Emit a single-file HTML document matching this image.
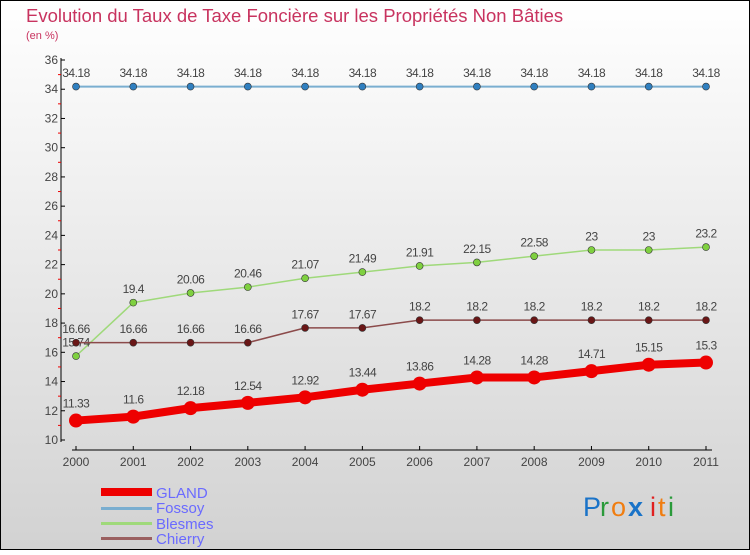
<!DOCTYPE html>
<html><head><meta charset="utf-8"><style>
html,body{margin:0;padding:0}
body{width:750px;height:550px;overflow:hidden;font-family:"Liberation Sans",sans-serif}
svg text{font-family:"Liberation Sans",sans-serif}
</style></head><body>
<svg id="chart" width="750" height="550" xmlns="http://www.w3.org/2000/svg">
<defs><linearGradient id="bg" x1="0" y1="0" x2="0" y2="1"><stop offset="0" stop-color="#ffffff"/><stop offset="1" stop-color="#d2d2d2"/></linearGradient></defs>
<rect x="0.5" y="0.5" width="749" height="549" fill="url(#bg)" stroke="#000"/>
<text x="26" y="22" font-size="18.5" fill="#c8335f">Evolution du Taux de Taxe Foncière sur les Propriétés Non Bâties</text>
<text x="26" y="39" font-size="11" fill="#c8335f">(en %)</text>
<g id="axes"></g>
<g id="series"></g>
<g id="legend">
<rect x="101" y="488" width="51" height="8" fill="#e00"/>
<text x="156" y="498" font-size="15" fill="#6a6aff">GLAND</text>
<rect x="101" y="507" width="51" height="3" fill="#7aaed0"/>
<text x="156" y="513" font-size="15" fill="#6a6aff">Fossoy</text>
<rect x="101" y="522" width="51" height="3" fill="#9fd97a"/>
<text x="156" y="529" font-size="15" fill="#6a6aff">Blesmes</text>
<rect x="101" y="537" width="51" height="3" fill="#9a6060"/>
<text x="156" y="544" font-size="15" fill="#6a6aff">Chierry</text>
</g>
<g font-size="27" font-family="Liberation Sans">
<text x="583" y="516" fill="#1a73c8">P</text><text x="600" y="516" fill="#2a9a3a">r</text><text x="611" y="516" fill="#f07d10">o</text><text x="628" y="516" fill="#1a73c8" font-weight="bold">x</text><text x="650" y="516" fill="#e02020">i</text><text x="658" y="516" fill="#f07d10">t</text><text x="668" y="516" fill="#2a9a3a">i</text>
</g>
</svg>
<script>
const years = ["2000","2001","2002","2003","2004","2005","2006","2007","2008","2009","2010","2011"];
const gland = [11.33,11.6,12.18,12.54,12.92,13.44,13.86,14.28,14.28,14.71,15.15,15.3];
const fossoy = [34.18,34.18,34.18,34.18,34.18,34.18,34.18,34.18,34.18,34.18,34.18,34.18];
const blesmes = [15.74,19.4,20.06,20.46,21.07,21.49,21.91,22.15,22.58,23,23,23.2];
const chierry = [16.66,16.66,16.66,16.66,17.67,17.67,18.2,18.2,18.2,18.2,18.2,18.2];
const yTicks = [10,12,14,16,18,20,22,24,26,28,30,32,34,36];
const NS="http://www.w3.org/2000/svg";
const x = i => 76 + i*(706-76)/(years.length-1);
const y = v => 440 - (v-10)*(440-60)/26;
function mk(tag, attrs, parent){const e=document.createElementNS(NS,tag);for(const k in attrs)e.setAttribute(k,attrs[k]);parent.appendChild(e);return e;}
const axes=document.getElementById('axes');
let a=mk('line',{x1:61,y1:58,x2:61,y2:442,stroke:'#000'},axes);


a=mk('line',{x1:72,y1:450,x2:712,y2:450,stroke:'#000'},axes);


yTicks.forEach(t=>{
  mk('line',{x1:61,y1:y(t),x2:65,y2:y(t),stroke:'#000'},axes);
  if(t<36){mk('line',{x1:58,y1:y(t+1),x2:61,y2:y(t+1),stroke:'#e00'},axes);}
  const tx=mk('text',{x:58,y:y(t)+4,'font-size':12,fill:'#444','text-anchor':'end'},axes);
  tx.textContent=t;
  
  
});
years.forEach((yr,i)=>{
  mk('line',{x1:x(i),y1:446,x2:x(i),y2:450,stroke:'#000'},axes);
  const tx=mk('text',{x:x(i),y:466,'font-size':12,fill:'#444','text-anchor':'middle'},axes);
  tx.textContent=yr;
  
  
});
const sg=document.getElementById('series');
function draw(vals,name,color,dot,lw,r,fs){
  const g=mk('g',{},sg);
  
  
  const pl=mk('polyline',{points:vals.map((v,i)=>x(i)+','+y(v)).join(' '),fill:'none',stroke:color,'stroke-width':lw,'stroke-linejoin':'round'},g);
  
  
  vals.forEach((v,i)=>{
    const c=mk('circle',{cx:x(i),cy:y(v),r:r,fill:dot,stroke:dot==='#e00'?'#e00':'#333','stroke-width':dot==='#e00'?0:0.6},g);
    
    
    const t=mk('text',{x:x(i),y:y(v)-(r+6),'font-size':fs,fill:'#444','text-anchor':'middle','letter-spacing':'-0.5'},g);
    t.textContent=v;
    
    
  });
}
draw(fossoy,'fossoy','#7aaed0','#2f7fc0',2,3.5,12);
draw(blesmes,'blesmes','#9fd97a','#7fd040',1.5,3.5,12);
draw(chierry,'chierry','#8b4a4a','#6a1616',1.5,3.5,12);
draw(gland,'gland','#e00','#e00',8,7,12);
</script>
</body></html>
